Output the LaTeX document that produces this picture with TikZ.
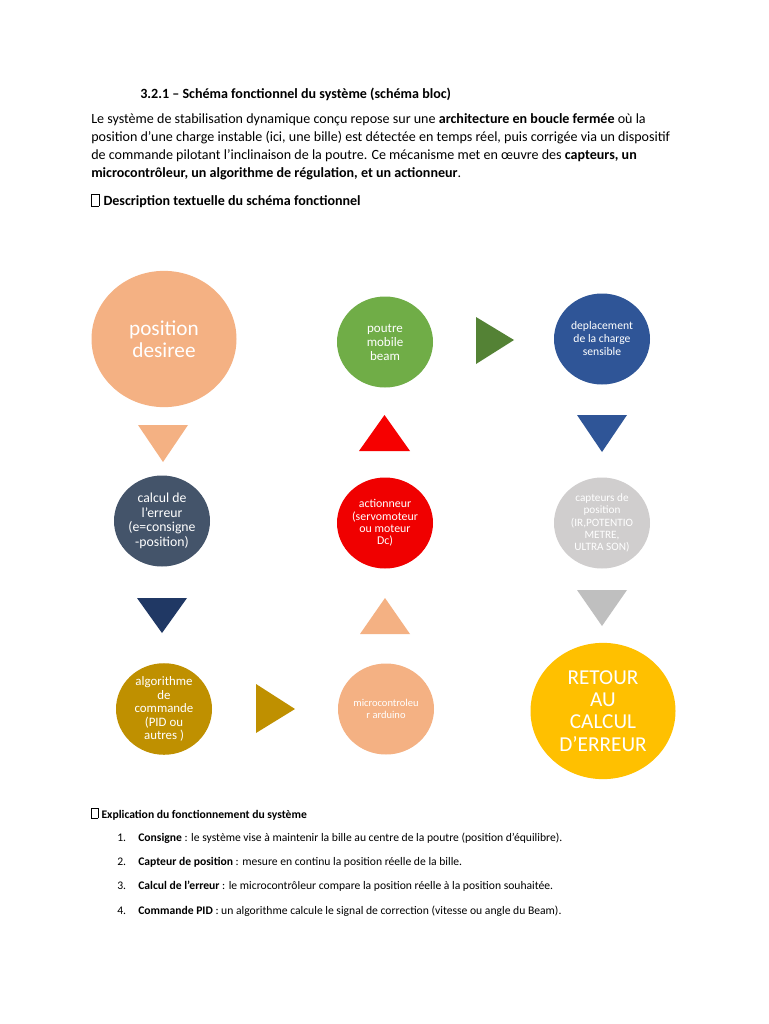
\documentclass[tikz,border=0pt]{standalone}
\usepackage{fontspec}
\setmainfont{Carlito}
\usetikzlibrary{shapes.geometric}

\definecolor{peach}{HTML}{F4B183}
\definecolor{slate}{HTML}{44546A}
\definecolor{navy}{HTML}{203864}
\definecolor{ochre}{HTML}{BF9000}
\definecolor{vivid}{HTML}{F00000}
\definecolor{leaf}{HTML}{70AD47}
\definecolor{darkleaf}{HTML}{548235}
\definecolor{royal}{HTML}{2F5597}
\definecolor{ash}{HTML}{D0CECE}
\definecolor{darkash}{HTML}{BFBFBF}
\definecolor{amber}{HTML}{FFC000}

\newcommand{\glyphbox}{{\fboxsep=0pt\fboxrule=0.4pt\fbox{\rule{0pt}{1.7ex}\hspace{0.5em}}}\hspace{0.3em}}

\begin{document}
\begin{tikzpicture}[x=0.8pt,y=-0.8pt,
   every node/.style={font=\fontsize{11.25}{13}\selectfont},
   line/.style={anchor=base west,inner sep=0pt},
   small/.style={font=\fontsize{9.3}{11}\selectfont},
   bubble/.style={ellipse,inner sep=0pt,text=white,align=center,
     minimum width=76.8pt,minimum height=72.8pt},
   big/.style={minimum width=116pt,minimum height=109pt,
     font=\fontsize{17}{17.8}\selectfont}]
  \fill[white] (0,0) rectangle (768,1024);

  % heading and introduction
  \node (title) [line,font=\fontsize{11.25}{13}\selectfont\bfseries] at (140,99)
    {3.2.1 – Schéma fonctionnel du système (schéma bloc)};
  \node (intro1) [line] at (91,124) {Le système de stabilisation dynamique conçu repose sur une \textbf{architecture en boucle fermée} où la};
  \node (intro2) [line] at (91,142) {position d’une charge instable (ici, une bille) est détectée en temps réel, puis corrigée via un dispositif};
  \node (intro3) [line] at (91,160) {de commande pilotant l’inclinaison de la poutre. Ce mécanisme met en œuvre des \textbf{capteurs, un}};
  \node (intro4) [line] at (91,178) {\textbf{microcontrôleur, un algorithme de régulation, et un actionneur}.};
  \node (desc) [line] at (91,206) {\glyphbox\textbf{Description textuelle du schéma fonctionnel}};

  % blocks
  \node (pos) [bubble,big,fill=peach] at (164,339) {position\\desiree};
  \node (err) [bubble,fill=slate,font=\fontsize{11}{11.6}\selectfont] at (162,521)
    {calcul de\\l'erreur\\(e=consigne\\-position)};
  \node (algo) [bubble,fill=ochre,font=\fontsize{10.3}{10.8}\selectfont] at (164,709)
    {algorithme\\de\\commande\\(PID ou\\autres )};
  \node (micro) [bubble,fill=peach,font=\fontsize{8.4}{9.6}\selectfont] at (386,709)
    {microcontroleu\\r arduino};
  \node (act) [bubble,fill=vivid,font=\fontsize{9.5}{9.9}\selectfont] at (385,523)
    {actionneur\\(servomoteur\\ou moteur\\Dc)};
  \node (beam) [bubble,fill=leaf,font=\fontsize{10.4}{11.2}\selectfont] at (385,342)
    {poutre\\mobile\\beam};
  \node (depl) [bubble,fill=royal,font=\fontsize{9.3}{10.4}\selectfont] at (602,339)
    {deplacement\\de la charge\\sensible};
  \node (capt) [bubble,fill=ash,font=\fontsize{9}{9.8}\selectfont] at (602,523)
    {capteurs de\\position\\(IR,POTENTIO\\METRE,\\ULTRA SON)};
  \node (ret) [bubble,big,fill=amber] at (603,711) {RETOUR\\AU\\CALCUL\\D'ERREUR};

  % triangle arrows
  \fill[peach] (138,425) -- (188,425) -- (163,462) -- cycle;
  \fill[navy] (137,598) -- (187,598) -- (162,633) -- cycle;
  \fill[ochre] (256,684) -- (295,709) -- (256,733) -- cycle;
  \fill[peach] (360,634) -- (385,598) -- (410,634) -- cycle;
  \fill[vivid!60!red] (359,451) -- (384.5,415) -- (410,451) -- cycle;
  \fill[darkleaf] (476,317) -- (514,340) -- (476,364) -- cycle;
  \fill[royal] (577,415) -- (627,415) -- (602,452) -- cycle;
  \fill[darkash] (577,590) -- (627,590) -- (602,626) -- cycle;

  % explanation list
  \node (expl) [line,small] at (91,818) {\glyphbox\textbf{Explication du fonctionnement du système}};
  \node (n1) [line,small] at (117,841) {1.};
  \node (i1) [line,small] at (138,841) {\textbf{Consigne} : le système vise à maintenir la bille au centre de la poutre (position d'équilibre).};
  \node (n2) [line,small] at (117,865) {2.};
  \node (i2) [line,small] at (138,865) {\textbf{Capteur de position} : mesure en continu la position réelle de la bille.};
  \node (n3) [line,small] at (117,889) {3.};
  \node (i3) [line,small] at (138,889) {\textbf{Calcul de l'erreur} : le microcontrôleur compare la position réelle à la position souhaitée.};
  \node (n4) [line,small] at (117,914) {4.};
  \node (i4) [line,small] at (138,914) {\textbf{Commande PID} : un algorithme calcule le signal de correction (vitesse ou angle du Beam).};
\end{tikzpicture}
\end{document}
